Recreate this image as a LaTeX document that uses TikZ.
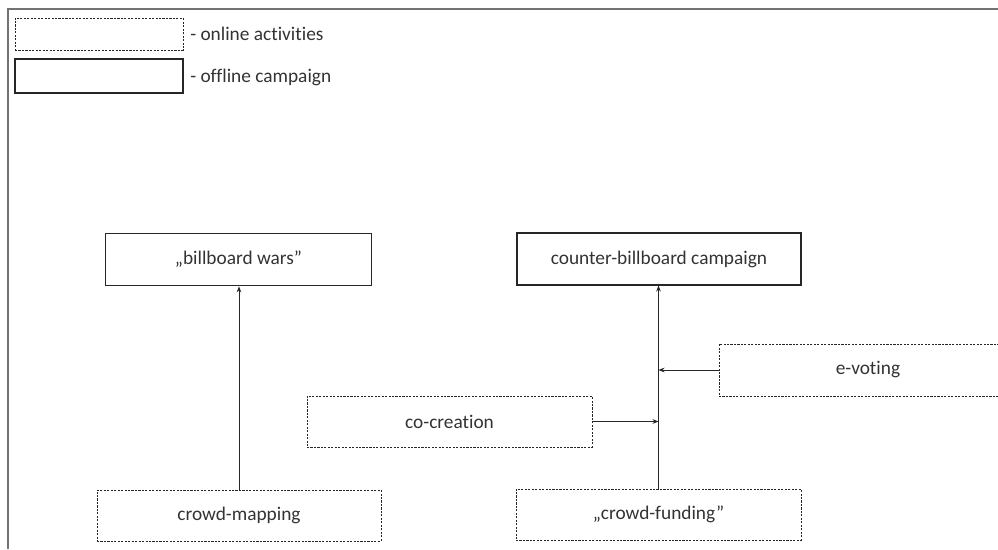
\documentclass[tikz,border=0pt]{standalone}
\usepackage{fontspec}
\setmainfont{Carlito}[Ligatures=NoCommon]
\usetikzlibrary{positioning,arrows.meta}

\begin{document}
\begin{tikzpicture}[x=0.75pt,y=-0.75pt,
    online/.style={draw=black!85, dash pattern=on 1.6pt off 1pt, line width=0.7pt,
        text=black!80, font=\fontsize{14.5}{17}\selectfont, inner sep=0pt},
    offline/.style={draw=black!85, line width=0.8pt,
        text=black!80, font=\fontsize{14.5}{17}\selectfont, inner sep=0pt},
    legendtext/.style={text=black!80, font=\fontsize{14.5}{17}\selectfont, inner sep=0pt, anchor=west},
    link/.style={-{Stealth[length=4.5pt,width=3.5pt]}, line width=0.7pt, draw=black!85}]
    \useasboundingbox (0,0) rectangle (998,549);
    \clip (0,0) rectangle (998,549);
    \draw[black!55, line width=1.2pt] (8,549) -- (8,9) -- (998,9);

    % legend
    \node[online, minimum width=126pt, minimum height=24pt] (keyon) at (99,34) {};
    \node[legendtext] (keyontext) at (190,34) {- online activities};
    \node[offline, minimum width=126pt, minimum height=25.5pt] (keyoff) at (99,76) {};
    \node[legendtext] (keyofftext) at (190,77) {- offline campaign};

    % campaigns
    \node[offline, minimum width=200pt, minimum height=39.5pt] (wars) at (238.5,259.5) {„billboard wars”};
    \node[offline, minimum width=213pt, minimum height=39pt] (counter) at (659,259) {counter-billboard campaign};

    % online activities
    \node[online, minimum width=223.5pt, minimum height=39pt] (voting) at (868,370) {e-voting};
    \node[online, minimum width=213.75pt, minimum height=38.25pt] (cocreation) at (449.5,421.5) {co-creation};
    \node[online, minimum width=213pt, minimum height=38.25pt] (mapping) at (239,515.5) {crowd-mapping};
    \node[online, minimum width=213.75pt, minimum height=38.25pt] (funding) at (658.5,514.5) {„crowd-funding”};

    % connectors
    \draw[link] (mapping.north) -- (mapping.north |- wars.south);
    \draw[link] (funding.north) -- (funding.north |- counter.south);
    \draw[link] (voting.west) -- (voting.west -| funding.north);
    \draw[link] (cocreation.east) -- (cocreation.east -| funding.north);
\end{tikzpicture}
\end{document}
